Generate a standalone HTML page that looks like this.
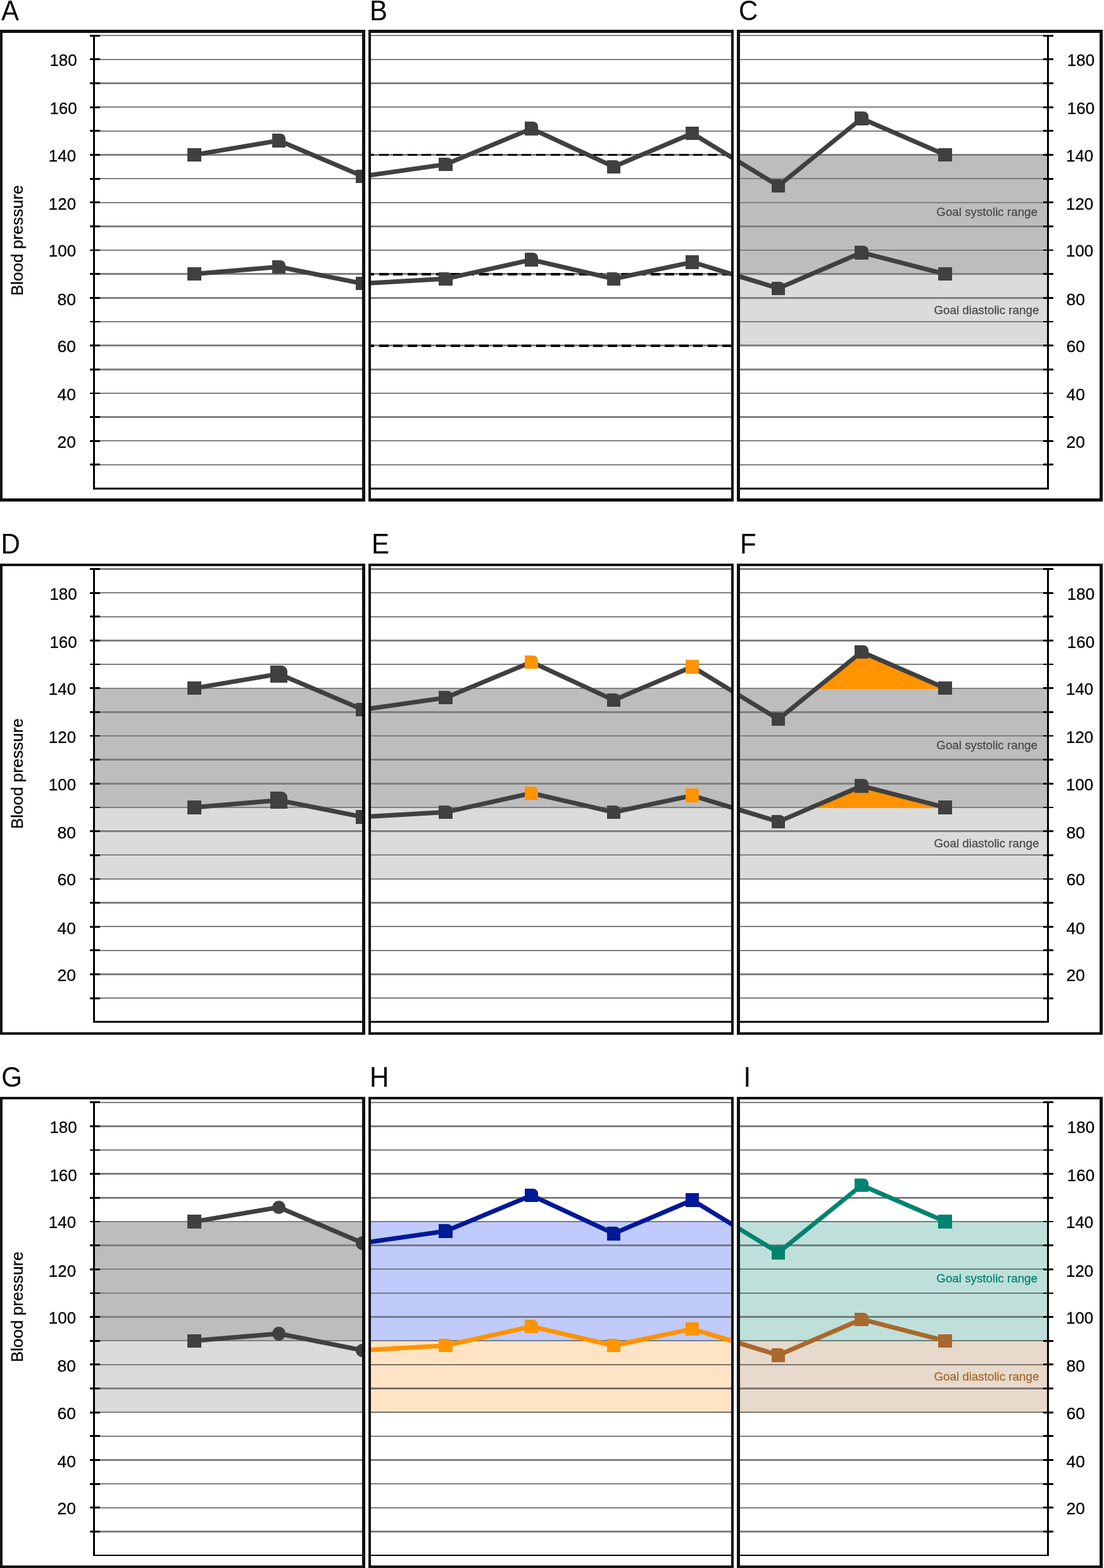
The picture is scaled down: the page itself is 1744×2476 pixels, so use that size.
<!DOCTYPE html>
<html lang="en">
<head>
<meta charset="utf-8">
<title>Blood pressure goal range charts</title>
<style>
html,body{margin:0;padding:0;background:#fff}
body{width:1744px;height:2476px;overflow:hidden}
svg{display:block;font-family:"Liberation Sans",Arial,Helvetica,sans-serif}
.pl{font-size:42px;fill:#000}
.tk{font-size:26.5px;fill:#000;stroke:#000;stroke-width:.3px}
.yl{font-size:26px;fill:#000;stroke:#000;stroke-width:.3px}
.gl{font-size:18.8px;stroke-width:.25px}
</style>
</head>
<body>
<svg width="1744" height="2476" viewBox="0 0 1744 2476">
<rect width="1744" height="2476" fill="#fff"/>
<defs>
<clipPath id="cp00"><rect x="1" y="48" width="575" height="743"/></clipPath>
<clipPath id="cp01"><rect x="583" y="48" width="575" height="743"/></clipPath>
<clipPath id="cp02"><rect x="1165" y="48" width="576" height="743"/></clipPath>
<clipPath id="cp10"><rect x="1" y="891" width="575" height="742"/></clipPath>
<clipPath id="cp11"><rect x="583" y="891" width="575" height="742"/></clipPath>
<clipPath id="cp12"><rect x="1165" y="891" width="576" height="742"/></clipPath>
<clipPath id="cp20"><rect x="1" y="1733" width="575" height="742"/></clipPath>
<clipPath id="cp21"><rect x="583" y="1733" width="575" height="742"/></clipPath>
<clipPath id="cp22"><rect x="1165" y="1733" width="576" height="742"/></clipPath>
</defs>
<g id="panel-A">
<g clip-path="url(#cp00)">
<path d="M149 733H576V735H149ZM149 695H576V697H149ZM149 657H576V660H149ZM149 620H576V622H149ZM149 582H576V585H149ZM149 544H576V547H149ZM149 507H576V509H149ZM149 469H576V472H149ZM149 431H576V434H149ZM149 394H576V396H149ZM149 356H576V359H149ZM149 319H576V321H149ZM149 281H576V283H149ZM149 243H576V246H149ZM149 206H576V208H149ZM149 168H576V170H149ZM149 130H576V133H149ZM149 93H576V95H149ZM149 55H576V57H149Z" fill="#808080"/>
<path d="M307 243.96L440.5 221.37L573 277.85L704 259.02L839.6 202.55L969.5 262.79L1093.6 210.08L1229.6 292.91L1361.1 186.55L1493.1 243.96M307 244.96L440.5 222.37L573 278.85L704 260.02L839.6 203.55L969.5 263.79L1093.6 211.08L1229.6 293.91L1361.1 187.55L1493.1 244.96" fill="none" stroke="#404040" stroke-width="6.25" stroke-linejoin="miter"/>
<path d="M307 432.2L440.5 420.91L573 447.26L704 439.73L839.6 409.61L969.5 439.73L1093.6 413.38L1229.6 454.79L1361.1 398.32L1493.1 432.2M307 433.2L440.5 421.91L573 448.26L704 440.73L839.6 410.61L969.5 440.73L1093.6 414.38L1229.6 455.79L1361.1 399.32L1493.1 433.2" fill="none" stroke="#404040" stroke-width="6.25" stroke-linejoin="miter"/>
<rect x="296" y="234" width="22" height="21" fill="#404040"/>
<path d="M430 211H443A8 8 0 0 1 451 219V233H430Z" fill="#404040"/>
<rect x="562" y="268" width="22" height="21" fill="#404040"/>
<rect x="296" y="422" width="22" height="21" fill="#404040"/>
<path d="M430 411H443A8 8 0 0 1 451 419V432H430Z" fill="#404040"/>
<rect x="562" y="437" width="22" height="21" fill="#404040"/>
</g>
<path d="M147 55H150V773H147ZM147 770H572V773H147ZM142 732H158V735H142ZM142 695H158V698H142ZM142 657H158V660H142ZM142 620H158V622H142ZM142 582H158V585H142ZM142 544H158V547H142ZM142 507H158V509H142ZM142 469H158V472H142ZM142 431H158V434H142ZM142 394H158V396H142ZM142 356H158V359H142ZM142 318H158V321H142ZM142 281H158V284H142ZM142 243H158V246H142ZM142 205H158V208H142ZM142 168H158V171H142ZM142 130H158V133H142ZM142 92H158V95H142ZM142 55H158V58H142Z" fill="#000" fill-rule="nonzero"/>
<path d="M0 47H577V792H0ZM4 52V787H572V52Z" fill="#111111" fill-rule="evenodd"/>
<text class="pl" transform="translate(2.1 31.9) scale(1 1.04)">A</text>
<text class="tk" text-anchor="end" transform="translate(121.7 104.1) scale(0.98 1)">180</text>
<text class="tk" text-anchor="end" transform="translate(121.7 180.1) scale(0.98 1)">160</text>
<text class="tk" text-anchor="end" transform="translate(120.1 254.9) scale(0.98 1)">140</text>
<text class="tk" text-anchor="end" transform="translate(120.1 330.8) scale(0.98 1)">120</text>
<text class="tk" text-anchor="end" transform="translate(120.1 405) scale(0.98 1)">100</text>
<text class="tk" text-anchor="end" transform="translate(120.1 482.4)">80</text>
<text class="tk" text-anchor="end" transform="translate(120.1 556)">60</text>
<text class="tk" text-anchor="end" transform="translate(120.1 631.6)">40</text>
<text class="tk" text-anchor="end" transform="translate(120.1 707.1)">20</text>
<text class="yl" transform="translate(36.1 467) rotate(-90) scale(1 1.02)">Blood pressure</text>
</g>
<g id="panel-B">
<g clip-path="url(#cp01)">
<path d="M583 733H1158V735H583ZM583 695H1158V697H583ZM583 657H1158V660H583ZM583 620H1158V622H583ZM583 582H1158V585H583ZM583 544H1158V547H583ZM583 507H1158V509H583ZM583 469H1158V472H583ZM583 431H1158V434H583ZM583 394H1158V396H583ZM583 356H1158V359H583ZM583 319H1158V321H583ZM583 281H1158V283H583ZM583 243H1158V246H583ZM583 206H1158V208H583ZM583 168H1158V170H583ZM583 130H1158V133H583ZM583 93H1158V95H583ZM583 55H1158V57H583Z" fill="#808080"/>
<path d="M576 243H591V246H576ZM599 243H614V246H599ZM621 243H636V246H621ZM644 243H659V246H644ZM666 243H681V246H666ZM689 243H704V246H689ZM712 243H727V246H712ZM734 243H749V246H734ZM757 243H772V246H757ZM779 243H794V246H779ZM802 243H817V246H802ZM824 243H839V246H824ZM847 243H862V246H847ZM870 243H885V246H870ZM892 243H907V246H892ZM915 243H930V246H915ZM937 243H952V246H937ZM960 243H975V246H960ZM982 243H997V246H982ZM1005 243H1020V246H1005ZM1028 243H1043V246H1028ZM1050 243H1065V246H1050ZM1073 243H1088V246H1073ZM1095 243H1110V246H1095ZM1118 243H1133V246H1118ZM1141 243H1156V246H1141Z" fill="#000"/>
<path d="M576 431H591V435H576ZM599 431H614V435H599ZM621 431H636V435H621ZM644 431H659V435H644ZM666 431H681V435H666ZM689 431H704V435H689ZM712 431H727V435H712ZM734 431H749V435H734ZM757 431H772V435H757ZM779 431H794V435H779ZM802 431H817V435H802ZM824 431H839V435H824ZM847 431H862V435H847ZM870 431H885V435H870ZM892 431H907V435H892ZM915 431H930V435H915ZM937 431H952V435H937ZM960 431H975V435H960ZM982 431H997V435H982ZM1005 431H1020V435H1005ZM1028 431H1043V435H1028ZM1050 431H1065V435H1050ZM1073 431H1088V435H1073ZM1095 431H1110V435H1095ZM1118 431H1133V435H1118ZM1141 431H1156V435H1141Z" fill="#000"/>
<path d="M576 544H591V548H576ZM599 544H614V548H599ZM621 544H636V548H621ZM644 544H659V548H644ZM666 544H681V548H666ZM689 544H704V548H689ZM712 544H727V548H712ZM734 544H749V548H734ZM757 544H772V548H757ZM779 544H794V548H779ZM802 544H817V548H802ZM824 544H839V548H824ZM847 544H862V548H847ZM870 544H885V548H870ZM892 544H907V548H892ZM915 544H930V548H915ZM937 544H952V548H937ZM960 544H975V548H960ZM982 544H997V548H982ZM1005 544H1020V548H1005ZM1028 544H1043V548H1028ZM1050 544H1065V548H1050ZM1073 544H1088V548H1073ZM1095 544H1110V548H1095ZM1118 544H1133V548H1118ZM1141 544H1156V548H1141Z" fill="#000"/>
<path d="M307 243.96L440.5 221.37L573 277.85L704 259.02L839.6 202.55L969.5 262.79L1093.6 210.08L1229.6 292.91L1361.1 186.55L1493.1 243.96M307 244.96L440.5 222.37L573 278.85L704 260.02L839.6 203.55L969.5 263.79L1093.6 211.08L1229.6 293.91L1361.1 187.55L1493.1 244.96" fill="none" stroke="#404040" stroke-width="6.25" stroke-linejoin="miter"/>
<path d="M307 432.2L440.5 420.91L573 447.26L704 439.73L839.6 409.61L969.5 439.73L1093.6 413.38L1229.6 454.79L1361.1 398.32L1493.1 432.2M307 433.2L440.5 421.91L573 448.26L704 440.73L839.6 410.61L969.5 440.73L1093.6 414.38L1229.6 455.79L1361.1 399.32L1493.1 433.2" fill="none" stroke="#404040" stroke-width="6.25" stroke-linejoin="miter"/>
<path d="M693 249H707A8 8 0 0 1 715 257V270H693Z" fill="#404040"/>
<path d="M829 192H842A8 8 0 0 1 850 200V214H829Z" fill="#404040"/>
<path d="M959 253H972A8 8 0 0 1 980 261V274H959Z" fill="#404040"/>
<rect x="1083" y="200" width="21" height="21" fill="#404040"/>
<path d="M693 430H707A8 8 0 0 1 715 438V451H693Z" fill="#404040"/>
<path d="M829 399H842A8 8 0 0 1 850 407V421H829Z" fill="#404040"/>
<path d="M959 430H972A8 8 0 0 1 980 438V451H959Z" fill="#404040"/>
<rect x="1083" y="403" width="21" height="22" fill="#404040"/>
</g>
<rect x="586" y="770" width="569" height="3" fill="#000"/>
<path d="M582 47H1159V792H582ZM586 52V787H1155V52Z" fill="#111111" fill-rule="evenodd"/>
<text class="pl" transform="translate(584 31.9) scale(1 1.04)">B</text>
</g>
<g id="panel-C">
<g clip-path="url(#cp02)">
<rect x="1165" y="244" width="490" height="189" fill="#bdbdbd"/>
<rect x="1165" y="432" width="490" height="114" fill="#dbdbdb"/>
<path d="M1165 733H1655V735H1165ZM1165 695H1655V697H1165ZM1165 657H1655V660H1165ZM1165 620H1655V622H1165ZM1165 582H1655V585H1165ZM1165 544H1655V547H1165ZM1165 507H1655V509H1165ZM1165 469H1655V472H1165ZM1165 431H1655V434H1165ZM1165 394H1655V396H1165ZM1165 356H1655V359H1165ZM1165 319H1655V321H1165ZM1165 281H1655V283H1165ZM1165 243H1655V246H1165ZM1165 206H1655V208H1165ZM1165 168H1655V170H1165ZM1165 130H1655V133H1165ZM1165 93H1655V95H1165ZM1165 55H1655V57H1165Z" fill="#808080"/>
<path d="M307 243.96L440.5 221.37L573 277.85L704 259.02L839.6 202.55L969.5 262.79L1093.6 210.08L1229.6 292.91L1361.1 186.55L1493.1 243.96M307 244.96L440.5 222.37L573 278.85L704 260.02L839.6 203.55L969.5 263.79L1093.6 211.08L1229.6 293.91L1361.1 187.55L1493.1 244.96" fill="none" stroke="#404040" stroke-width="6.25" stroke-linejoin="miter"/>
<path d="M307 432.2L440.5 420.91L573 447.26L704 439.73L839.6 409.61L969.5 439.73L1093.6 413.38L1229.6 454.79L1361.1 398.32L1493.1 432.2M307 433.2L440.5 421.91L573 448.26L704 440.73L839.6 410.61L969.5 440.73L1093.6 414.38L1229.6 455.79L1361.1 399.32L1493.1 433.2" fill="none" stroke="#404040" stroke-width="6.25" stroke-linejoin="miter"/>
<path d="M1219 283H1232A8 8 0 0 1 1240 291V304H1219Z" fill="#404040"/>
<path d="M1350 176H1364A8 8 0 0 1 1372 184V198H1350Z" fill="#404040"/>
<rect x="1482" y="234" width="22" height="21" fill="#404040"/>
<path d="M1219 445H1232A8 8 0 0 1 1240 453V466H1219Z" fill="#404040"/>
<path d="M1350 388H1364A8 8 0 0 1 1372 396V410H1350Z" fill="#404040"/>
<rect x="1482" y="422" width="22" height="21" fill="#404040"/>
</g>
<path d="M1654 55H1657V773H1654ZM1169 770H1657V773H1169ZM1648 732H1664V735H1648ZM1648 695H1664V698H1648ZM1648 657H1664V660H1648ZM1648 620H1664V622H1648ZM1648 582H1664V585H1648ZM1648 544H1664V547H1648ZM1648 507H1664V509H1648ZM1648 469H1664V472H1648ZM1648 431H1664V434H1648ZM1648 394H1664V396H1648ZM1648 356H1664V359H1648ZM1648 318H1664V321H1648ZM1648 281H1664V284H1648ZM1648 243H1664V246H1648ZM1648 205H1664V208H1648ZM1648 168H1664V171H1648ZM1648 130H1664V133H1648ZM1648 92H1664V95H1648ZM1648 55H1664V58H1648Z" fill="#000" fill-rule="nonzero"/>
<path d="M1164 47H1742V792H1164ZM1169 52V787H1737V52Z" fill="#111111" fill-rule="evenodd"/>
<text class="pl" transform="translate(1166.9 31.9) scale(1 1.04)">C</text>
<text class="tk" transform="translate(1685.8 104.1) scale(0.98 1)">180</text>
<text class="tk" transform="translate(1685.8 180.1) scale(0.98 1)">160</text>
<text class="tk" transform="translate(1684 254.9) scale(0.98 1)">140</text>
<text class="tk" transform="translate(1684 330.8) scale(0.98 1)">120</text>
<text class="tk" transform="translate(1684 405) scale(0.98 1)">100</text>
<text class="tk" transform="translate(1684.6 482.4)">80</text>
<text class="tk" transform="translate(1684.6 556)">60</text>
<text class="tk" transform="translate(1684.6 631.6)">40</text>
<text class="tk" transform="translate(1684.6 707.1)">20</text>
<text class="gl" text-anchor="end" transform="translate(1639 340.6) scale(1 1.01)" fill="#494949" stroke="#494949">Goal systolic range</text>
<text class="gl" text-anchor="end" transform="translate(1641.4 495.6) scale(1 1.01)" fill="#494949" stroke="#494949">Goal diastolic range</text>
</g>
<g id="panel-D">
<g clip-path="url(#cp10)">
<rect x="149" y="1086" width="427" height="189" fill="#bdbdbd"/>
<rect x="149" y="1274" width="427" height="114" fill="#dbdbdb"/>
<path d="M149 1575H576V1577H149ZM149 1537H576V1540H149ZM149 1500H576V1502H149ZM149 1462H576V1464H149ZM149 1424H576V1427H149ZM149 1387H576V1389H149ZM149 1349H576V1351H149ZM149 1311H576V1314H149ZM149 1274H576V1276H149ZM149 1236H576V1239H149ZM149 1198H576V1201H149ZM149 1161H576V1163H149ZM149 1123H576V1126H149ZM149 1086H576V1088H149ZM149 1048H576V1050H149ZM149 1010H576V1013H149ZM149 973H576V975H149ZM149 935H576V937H149ZM149 897H576V900H149Z" fill="#808080"/>
<path d="M307 1086.22L440.5 1063.63L573 1120.11L704 1101.28L839.6 1044.81L969.5 1105.05L1093.6 1052.34L1229.6 1135.17L1361.1 1028.81L1493.1 1086.22M307 1087.22L440.5 1064.63L573 1121.11L704 1102.28L839.6 1045.81L969.5 1106.05L1093.6 1053.34L1229.6 1136.17L1361.1 1029.81L1493.1 1087.22" fill="none" stroke="#404040" stroke-width="6.25" stroke-linejoin="miter"/>
<path d="M307 1274.46L440.5 1263.17L573 1289.52L704 1281.99L839.6 1251.87L969.5 1281.99L1093.6 1255.64L1229.6 1297.05L1361.1 1240.58L1493.1 1274.46M307 1275.46L440.5 1264.17L573 1290.52L704 1282.99L839.6 1252.87L969.5 1282.99L1093.6 1256.64L1229.6 1298.05L1361.1 1241.58L1493.1 1275.46" fill="none" stroke="#404040" stroke-width="6.25" stroke-linejoin="miter"/>
<rect x="296" y="1076" width="22" height="21" fill="#404040"/>
<path d="M427 1051H444.7A9.3 9.3 0 0 1 454 1060.3V1078H427Z" fill="#404040"/>
<rect x="562" y="1110" width="22" height="21" fill="#404040"/>
<rect x="296" y="1264" width="22" height="22" fill="#404040"/>
<path d="M427 1250H444.7A9.3 9.3 0 0 1 454 1259.3V1277H427Z" fill="#404040"/>
<rect x="562" y="1279" width="22" height="22" fill="#404040"/>
</g>
<path d="M147 897H150V1615H147ZM147 1612H572V1615H147ZM142 1575H158V1578H142ZM142 1537H158V1540H142ZM142 1499H158V1502H142ZM142 1462H158V1465H142ZM142 1424H158V1427H142ZM142 1387H158V1389H142ZM142 1349H158V1352H142ZM142 1311H158V1314H142ZM142 1274H158V1276H142ZM142 1236H158V1239H142ZM142 1198H158V1201H142ZM142 1161H158V1163H142ZM142 1123H158V1126H142ZM142 1085H158V1088H142ZM142 1048H158V1050H142ZM142 1010H158V1013H142ZM142 972H158V975H142ZM142 935H158V938H142ZM142 897H158V900H142Z" fill="#000" fill-rule="nonzero"/>
<path d="M0 890H577V1634H0ZM4 894V1630H572V894Z" fill="#111111" fill-rule="evenodd"/>
<text class="pl" transform="translate(1.6 873.9) scale(1 1.04)">D</text>
<text class="tk" text-anchor="end" transform="translate(121.7 947.2) scale(0.98 1)">180</text>
<text class="tk" text-anchor="end" transform="translate(121.7 1023.2) scale(0.98 1)">160</text>
<text class="tk" text-anchor="end" transform="translate(120.1 1096.9) scale(0.98 1)">140</text>
<text class="tk" text-anchor="end" transform="translate(120.1 1172.8) scale(0.98 1)">120</text>
<text class="tk" text-anchor="end" transform="translate(120.1 1248.1) scale(0.98 1)">100</text>
<text class="tk" text-anchor="end" transform="translate(120.1 1324)">80</text>
<text class="tk" text-anchor="end" transform="translate(120.1 1398)">60</text>
<text class="tk" text-anchor="end" transform="translate(120.1 1474.6)">40</text>
<text class="tk" text-anchor="end" transform="translate(120.1 1549.1)">20</text>
<text class="yl" transform="translate(36.1 1309) rotate(-90) scale(1 1.02)">Blood pressure</text>
</g>
<g id="panel-E">
<g clip-path="url(#cp11)">
<rect x="583" y="1086" width="575" height="189" fill="#bdbdbd"/>
<rect x="583" y="1274" width="575" height="114" fill="#dbdbdb"/>
<path d="M583 1575H1158V1577H583ZM583 1537H1158V1540H583ZM583 1500H1158V1502H583ZM583 1462H1158V1464H583ZM583 1424H1158V1427H583ZM583 1387H1158V1389H583ZM583 1349H1158V1351H583ZM583 1311H1158V1314H583ZM583 1274H1158V1276H583ZM583 1236H1158V1239H583ZM583 1198H1158V1201H583ZM583 1161H1158V1163H583ZM583 1123H1158V1126H583ZM583 1086H1158V1088H583ZM583 1048H1158V1050H583ZM583 1010H1158V1013H583ZM583 973H1158V975H583ZM583 935H1158V937H583ZM583 897H1158V900H583Z" fill="#808080"/>
<path d="M307 1086.22L440.5 1063.63L573 1120.11L704 1101.28L839.6 1044.81L969.5 1105.05L1093.6 1052.34L1229.6 1135.17L1361.1 1028.81L1493.1 1086.22M307 1087.22L440.5 1064.63L573 1121.11L704 1102.28L839.6 1045.81L969.5 1106.05L1093.6 1053.34L1229.6 1136.17L1361.1 1029.81L1493.1 1087.22" fill="none" stroke="#404040" stroke-width="6.25" stroke-linejoin="miter"/>
<path d="M307 1274.46L440.5 1263.17L573 1289.52L704 1281.99L839.6 1251.87L969.5 1281.99L1093.6 1255.64L1229.6 1297.05L1361.1 1240.58L1493.1 1274.46M307 1275.46L440.5 1264.17L573 1290.52L704 1282.99L839.6 1252.87L969.5 1282.99L1093.6 1256.64L1229.6 1298.05L1361.1 1241.58L1493.1 1275.46" fill="none" stroke="#404040" stroke-width="6.25" stroke-linejoin="miter"/>
<path d="M693 1091H707A8 8 0 0 1 715 1099V1112H693Z" fill="#404040"/>
<path d="M829 1035H842A8 8 0 0 1 850 1043V1056H829Z" fill="#ff9300"/>
<path d="M959 1095H972A8 8 0 0 1 980 1103V1116H959Z" fill="#404040"/>
<rect x="1083" y="1042" width="21" height="22" fill="#ff9300"/>
<path d="M693 1272H707A8 8 0 0 1 715 1280V1293H693Z" fill="#404040"/>
<path d="M829 1242H842A8 8 0 0 1 850 1250V1263H829Z" fill="#ff9300"/>
<path d="M959 1272H972A8 8 0 0 1 980 1280V1293H959Z" fill="#404040"/>
<rect x="1083" y="1245" width="21" height="22" fill="#ff9300"/>
</g>
<rect x="586" y="1612" width="569" height="3" fill="#000"/>
<path d="M582 890H1159V1634H582ZM586 894V1630H1155V894Z" fill="#111111" fill-rule="evenodd"/>
<text class="pl" transform="translate(587 873.9) scale(1 1.04)">E</text>
</g>
<g id="panel-F">
<g clip-path="url(#cp12)">
<rect x="1165" y="1086" width="490" height="189" fill="#bdbdbd"/>
<rect x="1165" y="1274" width="490" height="114" fill="#dbdbdb"/>
<path d="M1165 1575H1655V1577H1165ZM1165 1537H1655V1540H1165ZM1165 1500H1655V1502H1165ZM1165 1462H1655V1464H1165ZM1165 1424H1655V1427H1165ZM1165 1387H1655V1389H1165ZM1165 1349H1655V1351H1165ZM1165 1311H1655V1314H1165ZM1165 1274H1655V1276H1165ZM1165 1236H1655V1239H1165ZM1165 1198H1655V1201H1165ZM1165 1161H1655V1163H1165ZM1165 1123H1655V1126H1165ZM1165 1086H1655V1088H1165ZM1165 1048H1655V1050H1165ZM1165 1010H1655V1013H1165ZM1165 973H1655V975H1165ZM1165 935H1655V937H1165ZM1165 897H1655V900H1165Z" fill="#808080"/>
<path d="M1290.11 1088L1361.1 1029.31L1493.1 1088Z" fill="#ff9300"/>
<path d="M1282.2 1276L1361.1 1241.08L1493.1 1276Z" fill="#ff9300"/>
<path d="M307 1086.22L440.5 1063.63L573 1120.11L704 1101.28L839.6 1044.81L969.5 1105.05L1093.6 1052.34L1229.6 1135.17L1361.1 1028.81L1493.1 1086.22M307 1087.22L440.5 1064.63L573 1121.11L704 1102.28L839.6 1045.81L969.5 1106.05L1093.6 1053.34L1229.6 1136.17L1361.1 1029.81L1493.1 1087.22" fill="none" stroke="#404040" stroke-width="6.25" stroke-linejoin="miter"/>
<path d="M307 1274.46L440.5 1263.17L573 1289.52L704 1281.99L839.6 1251.87L969.5 1281.99L1093.6 1255.64L1229.6 1297.05L1361.1 1240.58L1493.1 1274.46M307 1275.46L440.5 1264.17L573 1290.52L704 1282.99L839.6 1252.87L969.5 1282.99L1093.6 1256.64L1229.6 1298.05L1361.1 1241.58L1493.1 1275.46" fill="none" stroke="#404040" stroke-width="6.25" stroke-linejoin="miter"/>
<path d="M1219 1125H1232A8 8 0 0 1 1240 1133V1146H1219Z" fill="#404040"/>
<path d="M1350 1019H1364A8 8 0 0 1 1372 1027V1040H1350Z" fill="#404040"/>
<rect x="1482" y="1076" width="22" height="21" fill="#404040"/>
<path d="M1219 1287H1232A8 8 0 0 1 1240 1295V1308H1219Z" fill="#404040"/>
<path d="M1350 1230H1364A8 8 0 0 1 1372 1238V1252H1350Z" fill="#404040"/>
<rect x="1482" y="1264" width="22" height="22" fill="#404040"/>
</g>
<path d="M1654 897H1657V1615H1654ZM1169 1612H1657V1615H1169ZM1648 1575H1664V1578H1648ZM1648 1537H1664V1540H1648ZM1648 1499H1664V1502H1648ZM1648 1462H1664V1465H1648ZM1648 1424H1664V1427H1648ZM1648 1387H1664V1389H1648ZM1648 1349H1664V1352H1648ZM1648 1311H1664V1314H1648ZM1648 1274H1664V1276H1648ZM1648 1236H1664V1239H1648ZM1648 1198H1664V1201H1648ZM1648 1161H1664V1163H1648ZM1648 1123H1664V1126H1648ZM1648 1085H1664V1088H1648ZM1648 1048H1664V1050H1648ZM1648 1010H1664V1013H1648ZM1648 972H1664V975H1648ZM1648 935H1664V938H1648ZM1648 897H1664V900H1648Z" fill="#000" fill-rule="nonzero"/>
<path d="M1164 890H1742V1634H1164ZM1169 894V1630H1737V894Z" fill="#111111" fill-rule="evenodd"/>
<text class="pl" transform="translate(1168.9 873.9) scale(1 1.04)">F</text>
<text class="tk" transform="translate(1685.8 947.2) scale(0.98 1)">180</text>
<text class="tk" transform="translate(1685.8 1023.2) scale(0.98 1)">160</text>
<text class="tk" transform="translate(1684 1096.9) scale(0.98 1)">140</text>
<text class="tk" transform="translate(1684 1172.8) scale(0.98 1)">120</text>
<text class="tk" transform="translate(1684 1248.1) scale(0.98 1)">100</text>
<text class="tk" transform="translate(1684.6 1324)">80</text>
<text class="tk" transform="translate(1684.6 1398)">60</text>
<text class="tk" transform="translate(1684.6 1474.6)">40</text>
<text class="tk" transform="translate(1684.6 1549.1)">20</text>
<text class="gl" text-anchor="end" transform="translate(1639 1182.6) scale(1 1.01)" fill="#494949" stroke="#494949">Goal systolic range</text>
<text class="gl" text-anchor="end" transform="translate(1641.4 1337.6) scale(1 1.01)" fill="#494949" stroke="#494949">Goal diastolic range</text>
</g>
<g id="panel-G">
<g clip-path="url(#cp20)">
<rect x="149" y="1928" width="427" height="190" fill="#bdbdbd"/>
<rect x="149" y="2117" width="427" height="114" fill="#dbdbdb"/>
<path d="M149 2417H576V2420H149ZM149 2380H576V2382H149ZM149 2342H576V2344H149ZM149 2304H576V2307H149ZM149 2267H576V2269H149ZM149 2229H576V2231H149ZM149 2191H576V2194H149ZM149 2154H576V2156H149ZM149 2116H576V2118H149ZM149 2078H576V2081H149ZM149 2041H576V2043H149ZM149 2003H576V2005H149ZM149 1965H576V1968H149ZM149 1928H576V1930H149ZM149 1890H576V1893H149ZM149 1852H576V1855H149ZM149 1815H576V1817H149ZM149 1777H576V1780H149ZM149 1740H576V1742H149Z" fill="#808080"/>
<path d="M307 1928.48L440.5 1905.89L573 1962.37L704 1943.54L839.6 1887.07L969.5 1947.31L1093.6 1894.6L1229.6 1977.43L1361.1 1871.07L1493.1 1928.48M307 1929.48L440.5 1906.89L573 1963.37L704 1944.54L839.6 1888.07L969.5 1948.31L1093.6 1895.6L1229.6 1978.43L1361.1 1872.07L1493.1 1929.48" fill="none" stroke="#404040" stroke-width="6.25" stroke-linejoin="miter"/>
<path d="M307 2116.72L440.5 2105.43L573 2131.78L704 2124.25L839.6 2094.13L969.5 2124.25L1093.6 2097.9L1229.6 2139.31L1361.1 2082.84L1493.1 2116.72M307 2117.72L440.5 2106.43L573 2132.78L704 2125.25L839.6 2095.13L969.5 2125.25L1093.6 2098.9L1229.6 2140.31L1361.1 2083.84L1493.1 2117.72" fill="none" stroke="#404040" stroke-width="6.25" stroke-linejoin="miter"/>
<rect x="296" y="1918" width="22" height="22" fill="#404040"/>
<ellipse cx="440.5" cy="1906.5" rx="10.5" ry="10.5" fill="#404040"/>
<ellipse cx="573" cy="1963" rx="11" ry="11" fill="#404040"/>
<rect x="296" y="2107" width="22" height="21" fill="#404040"/>
<ellipse cx="440.5" cy="2106" rx="10.5" ry="11" fill="#404040"/>
<ellipse cx="573" cy="2132.5" rx="11" ry="10.5" fill="#404040"/>
</g>
<path d="M147 1739H150V2457H147ZM147 2455H572V2457H147ZM142 2417H158V2420H142ZM142 2379H158V2382H142ZM142 2342H158V2345H142ZM142 2304H158V2307H142ZM142 2266H158V2269H142ZM142 2229H158V2232H142ZM142 2191H158V2194H142ZM142 2153H158V2156H142ZM142 2116H158V2119H142ZM142 2078H158V2081H142ZM142 2041H158V2043H142ZM142 2003H158V2006H142ZM142 1965H158V1968H142ZM142 1928H158V1930H142ZM142 1890H158V1893H142ZM142 1852H158V1855H142ZM142 1815H158V1817H142ZM142 1777H158V1780H142ZM142 1739H158V1742H142Z" fill="#000" fill-rule="nonzero"/>
<path d="M0 1732H577V2476H0ZM4 1736V2472H572V1736Z" fill="#111111" fill-rule="evenodd"/>
<text class="pl" transform="translate(2.2 1715.9) scale(1 1.04)">G</text>
<text class="tk" text-anchor="end" transform="translate(121.7 1789.2) scale(0.98 1)">180</text>
<text class="tk" text-anchor="end" transform="translate(121.7 1865.2) scale(0.98 1)">160</text>
<text class="tk" text-anchor="end" transform="translate(120.1 1938.9) scale(0.98 1)">140</text>
<text class="tk" text-anchor="end" transform="translate(120.1 2016.1) scale(0.98 1)">120</text>
<text class="tk" text-anchor="end" transform="translate(120.1 2090.1) scale(0.98 1)">100</text>
<text class="tk" text-anchor="end" transform="translate(120.1 2166.4)">80</text>
<text class="tk" text-anchor="end" transform="translate(120.1 2241.1)">60</text>
<text class="tk" text-anchor="end" transform="translate(120.1 2316.6)">40</text>
<text class="tk" text-anchor="end" transform="translate(120.1 2391.1)">20</text>
<text class="yl" transform="translate(36.1 2151) rotate(-90) scale(1 1.02)">Blood pressure</text>
</g>
<g id="panel-H">
<g clip-path="url(#cp21)">
<rect x="583" y="1928" width="575" height="190" fill="#c0cbfc"/>
<rect x="583" y="2117" width="575" height="114" fill="#fee3c4"/>
<path d="M583 2417H1158V2420H583ZM583 2380H1158V2382H583ZM583 2342H1158V2344H583ZM583 2304H1158V2307H583ZM583 2267H1158V2269H583ZM583 1890H1158V1893H583ZM583 1852H1158V1855H583ZM583 1815H1158V1817H583ZM583 1777H1158V1780H583ZM583 1740H1158V1742H583Z" fill="#808080"/>
<path d="M583 2229H1158V2231H583ZM583 2191H1158V2194H583ZM583 2154H1158V2156H583Z" fill="#806d68"/>
<path d="M583 2116H1158V2118H583ZM583 2078H1158V2081H583ZM583 2041H1158V2043H583ZM583 2003H1158V2005H583ZM583 1965H1158V1968H583ZM583 1928H1158V1930H583Z" fill="#747b8c"/>
<path d="M307 1928.48L440.5 1905.89L573 1962.37L704 1943.54L839.6 1887.07L969.5 1947.31L1093.6 1894.6L1229.6 1977.43L1361.1 1871.07L1493.1 1928.48M307 1929.48L440.5 1906.89L573 1963.37L704 1944.54L839.6 1888.07L969.5 1948.31L1093.6 1895.6L1229.6 1978.43L1361.1 1872.07L1493.1 1929.48" fill="none" stroke="#001996" stroke-width="6.25" stroke-linejoin="miter"/>
<path d="M307 2116.72L440.5 2105.43L573 2131.78L704 2124.25L839.6 2094.13L969.5 2124.25L1093.6 2097.9L1229.6 2139.31L1361.1 2082.84L1493.1 2116.72M307 2117.72L440.5 2106.43L573 2132.78L704 2125.25L839.6 2095.13L969.5 2125.25L1093.6 2098.9L1229.6 2140.31L1361.1 2083.84L1493.1 2117.72" fill="none" stroke="#ff9300" stroke-width="6.25" stroke-linejoin="miter"/>
<path d="M693 1933H707A8 8 0 0 1 715 1941V1955H693Z" fill="#001996"/>
<path d="M829 1877H842A8 8 0 0 1 850 1885V1898H829Z" fill="#001996"/>
<path d="M959 1937H972A8 8 0 0 1 980 1945V1959H959Z" fill="#001996"/>
<rect x="1083" y="1884" width="21" height="22" fill="#001996"/>
<path d="M693 2114H707A8 8 0 0 1 715 2122V2135H693Z" fill="#ff9300"/>
<path d="M829 2084H842A8 8 0 0 1 850 2092V2105H829Z" fill="#ff9300"/>
<path d="M959 2114H972A8 8 0 0 1 980 2122V2135H959Z" fill="#ff9300"/>
<rect x="1083" y="2088" width="21" height="21" fill="#ff9300"/>
</g>
<rect x="586" y="2455" width="569" height="2" fill="#000"/>
<path d="M582 1732H1159V2476H582ZM586 1736V2472H1155V1736Z" fill="#111111" fill-rule="evenodd"/>
<text class="pl" transform="translate(584.1 1715.9) scale(1 1.04)">H</text>
</g>
<g id="panel-I">
<g clip-path="url(#cp22)">
<rect x="1165" y="1928" width="490" height="190" fill="#bfe0da"/>
<rect x="1165" y="2117" width="490" height="114" fill="#e7d9cb"/>
<path d="M1165 2417H1655V2420H1165ZM1165 2380H1655V2382H1165ZM1165 2342H1655V2344H1165ZM1165 2304H1655V2307H1165ZM1165 2267H1655V2269H1165ZM1165 1890H1655V1893H1165ZM1165 1852H1655V1855H1165ZM1165 1815H1655V1817H1165ZM1165 1777H1655V1780H1165ZM1165 1740H1655V1742H1165Z" fill="#808080"/>
<path d="M1165 2229H1655V2231H1165ZM1165 2191H1655V2194H1165ZM1165 2154H1655V2156H1165Z" fill="#7e766d"/>
<path d="M1165 2116H1655V2118H1165ZM1165 2078H1655V2081H1165ZM1165 2041H1655V2043H1165ZM1165 2003H1655V2005H1165ZM1165 1965H1655V1968H1165ZM1165 1928H1655V1930H1165Z" fill="#6b7d79"/>
<path d="M307 1928.48L440.5 1905.89L573 1962.37L704 1943.54L839.6 1887.07L969.5 1947.31L1093.6 1894.6L1229.6 1977.43L1361.1 1871.07L1493.1 1928.48M307 1929.48L440.5 1906.89L573 1963.37L704 1944.54L839.6 1888.07L969.5 1948.31L1093.6 1895.6L1229.6 1978.43L1361.1 1872.07L1493.1 1929.48" fill="none" stroke="#00836f" stroke-width="6.25" stroke-linejoin="miter"/>
<path d="M307 2116.72L440.5 2105.43L573 2131.78L704 2124.25L839.6 2094.13L969.5 2124.25L1093.6 2097.9L1229.6 2139.31L1361.1 2082.84L1493.1 2116.72M307 2117.72L440.5 2106.43L573 2132.78L704 2125.25L839.6 2095.13L969.5 2125.25L1093.6 2098.9L1229.6 2140.31L1361.1 2083.84L1493.1 2117.72" fill="none" stroke="#a8682e" stroke-width="6.25" stroke-linejoin="miter"/>
<path d="M1219 1967H1232A8 8 0 0 1 1240 1975V1989H1219Z" fill="#00836f"/>
<path d="M1350 1861H1364A8 8 0 0 1 1372 1869V1882H1350Z" fill="#00836f"/>
<rect x="1482" y="1918" width="22" height="22" fill="#00836f"/>
<path d="M1219 2129H1232A8 8 0 0 1 1240 2137V2151H1219Z" fill="#a8682e"/>
<path d="M1350 2073H1364A8 8 0 0 1 1372 2081V2094H1350Z" fill="#a8682e"/>
<rect x="1482" y="2107" width="22" height="21" fill="#a8682e"/>
</g>
<path d="M1654 1739H1657V2457H1654ZM1169 2455H1657V2457H1169ZM1648 2417H1664V2420H1648ZM1648 2379H1664V2382H1648ZM1648 2342H1664V2345H1648ZM1648 2304H1664V2307H1648ZM1648 2266H1664V2269H1648ZM1648 2229H1664V2232H1648ZM1648 2191H1664V2194H1648ZM1648 2153H1664V2156H1648ZM1648 2116H1664V2119H1648ZM1648 2078H1664V2081H1648ZM1648 2041H1664V2043H1648ZM1648 2003H1664V2006H1648ZM1648 1965H1664V1968H1648ZM1648 1928H1664V1930H1648ZM1648 1890H1664V1893H1648ZM1648 1852H1664V1855H1648ZM1648 1815H1664V1817H1648ZM1648 1777H1664V1780H1648ZM1648 1739H1664V1742H1648Z" fill="#000" fill-rule="nonzero"/>
<path d="M1164 1732H1742V2476H1164ZM1169 1736V2472H1737V1736Z" fill="#111111" fill-rule="evenodd"/>
<text class="pl" transform="translate(1174.5 1715.9) scale(1 1.04)">I</text>
<text class="tk" transform="translate(1685.8 1789.2) scale(0.98 1)">180</text>
<text class="tk" transform="translate(1685.8 1865.2) scale(0.98 1)">160</text>
<text class="tk" transform="translate(1684 1938.9) scale(0.98 1)">140</text>
<text class="tk" transform="translate(1684 2016.1) scale(0.98 1)">120</text>
<text class="tk" transform="translate(1684 2090.1) scale(0.98 1)">100</text>
<text class="tk" transform="translate(1684.6 2166.4)">80</text>
<text class="tk" transform="translate(1684.6 2241.1)">60</text>
<text class="tk" transform="translate(1684.6 2316.6)">40</text>
<text class="tk" transform="translate(1684.6 2391.1)">20</text>
<text class="gl" text-anchor="end" transform="translate(1639 2024.6) scale(1 1.01)" fill="#00836f" stroke="#00836f">Goal systolic range</text>
<text class="gl" text-anchor="end" transform="translate(1641.4 2179.6) scale(1 1.01)" fill="#a8682e" stroke="#a8682e">Goal diastolic range</text>
</g>
</svg>
</body>
</html>
